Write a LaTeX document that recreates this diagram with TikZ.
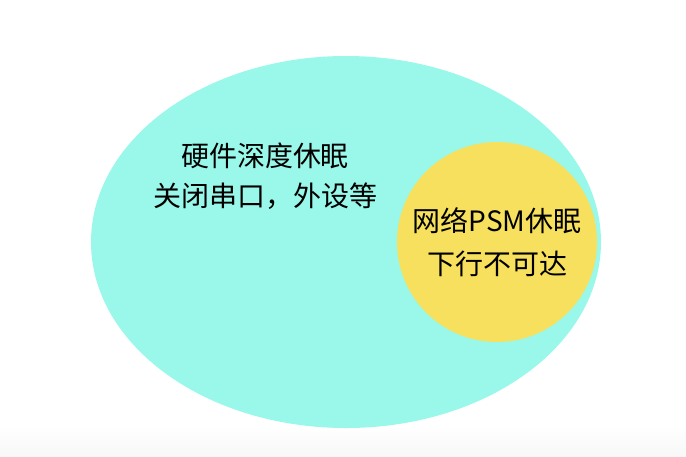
\documentclass[tikz,border=0pt]{standalone}
\usepackage{fontspec}
\setmainfont{Noto Sans CJK SC}
\usepackage{tikz}
\usetikzlibrary{shapes,positioning}
\definecolor{deepcyan}{HTML}{99F8EA}
\definecolor{psmyellow}{HTML}{F6E05E}
\begin{document}
\begin{tikzpicture}[x=1pt, y=-1pt]
\tikzstyle{every node}=[align=center, inner sep=0pt,
                        font=\fontsize{28}{40}\selectfont]
\useasboundingbox (0,0) rectangle (686,456);
\shade[top color=white, bottom color=black!3] (0,425) rectangle (686,456);
\node[ellipse, fill=deepcyan, minimum width=510pt,
      minimum height=372pt] (deep) at (346,242) {};
\node[circle, fill=psmyellow, minimum size=200pt] (psm) at (497,242) {};
\node (deeptext) at (265,176) {硬件深度休眠\\关闭串口，外设等};
\node[font=\fontsize{28}{43}\selectfont] (psmtext) at (497,242)
     {网络PSM休眠\\下行不可达};
\end{tikzpicture}
\end{document}
